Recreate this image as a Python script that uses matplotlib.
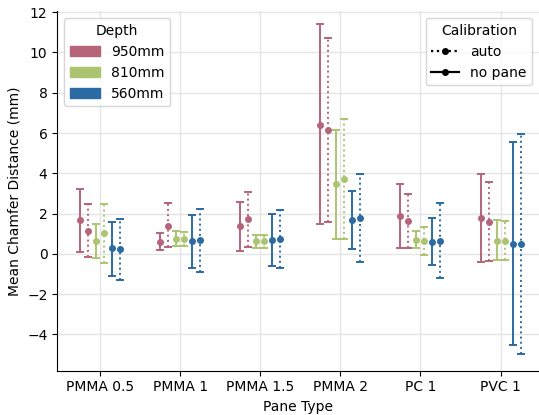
import matplotlib
matplotlib.use("Agg")
import matplotlib.pyplot as plt
import matplotlib.patches as mpatches
from matplotlib.lines import Line2D
import numpy as np

panes = ["PMMA 0.5", "PMMA 1", "PMMA 1.5", "PMMA 2", "PC 1", "PVC 1"]
depths = ["950mm", "810mm", "560mm"]
colors = ["#b5647a", "#acc470", "#2c6aa4"]

# mean, lower end, upper end of each bar, per depth
nopane_mean = [[1.66, 0.61, 1.38, 6.42, 1.88, 1.78],
               [0.65, 0.75, 0.63, 3.45, 0.71, 0.66],
               [0.27, 0.65, 0.70, 1.69, 0.60, 0.48]]
nopane_lo = [[0.11, 0.17, 0.15, 1.46, 0.30, -0.43],
             [-0.21, 0.37, 0.30, 0.75, 0.30, -0.33],
             [-1.08, -0.68, -0.60, 0.25, -0.56, -4.55]]
nopane_hi = [[3.22, 1.05, 2.59, 11.39, 3.45, 3.98],
             [1.48, 1.13, 0.95, 6.14, 1.11, 1.66],
             [1.59, 1.94, 1.99, 3.14, 1.76, 5.53]]

auto_mean = [[1.15, 1.39, 1.73, 6.16, 1.61, 1.59],
             [1.01, 0.73, 0.63, 3.74, 0.65, 0.66],
             [0.23, 0.70, 0.75, 1.76, 0.66, 0.48]]
auto_lo = [[-0.18, 0.32, 0.35, 1.59, 0.30, -0.38],
           [-0.45, 0.37, 0.30, 0.76, -0.08, -0.33],
           [-1.31, -0.88, -0.70, -0.43, -1.21, -4.98]]
auto_hi = [[2.47, 2.51, 3.09, 10.72, 2.95, 3.55],
           [2.47, 1.10, 0.95, 6.71, 1.34, 1.63],
           [1.74, 2.24, 2.19, 3.98, 2.54, 5.95]]

fig = plt.figure(figsize=(5.39, 4.15), dpi=100)
ax = fig.add_axes([0.106, 0.107, 0.894, 0.866])

x = np.arange(len(panes))
offsets = [-0.25, -0.15, -0.05, 0.05, 0.15, 0.25]

for i in range(3):
    for j, (m, lo, hi, ls) in enumerate([(nopane_mean, nopane_lo, nopane_hi, "-"),
                                          (auto_mean, auto_lo, auto_hi, ":")]):
        mean = np.array(m[i])
        err = [mean - np.array(lo[i]), np.array(hi[i]) - mean]
        eb = ax.errorbar(x + offsets[2 * i + j], mean, yerr=err, fmt="o",
                         color=colors[i], ms=4, capsize=3, elinewidth=1.4,
                         capthick=1.4)
        eb[2][0].set_linestyle(ls)

ax.set_xticks(x)
ax.set_xticklabels(panes)
ax.set_xlim(-0.535, 5.48)
ax.set_ylim(-5.8, 12.05)
ax.set_yticks([-4, -2, 0, 2, 4, 6, 8, 10, 12])
ax.grid(True, color="#e5e5e5", lw=1)
ax.set_axisbelow(True)
ax.spines["top"].set_visible(False)
ax.spines["right"].set_visible(False)
ax.set_xlabel("Pane Type")
ax.set_ylabel("Mean Chamfer Distance (mm)")

depth_handles = [mpatches.Patch(color=c, label=d) for c, d in zip(colors, depths)]
leg1 = ax.legend(handles=depth_handles, title="Depth", loc="upper left",
                 handlelength=2.2)
ax.add_artist(leg1)
cal_handles = [Line2D([], [], color="black", ls=":", marker="o", ms=4, lw=1.6, label="auto"),
               Line2D([], [], color="black", ls="-", marker="o", ms=4, lw=1.6, label="no pane")]
ax.legend(handles=cal_handles, title="Calibration", loc="upper right")

fig.savefig("out.png", dpi=100)
